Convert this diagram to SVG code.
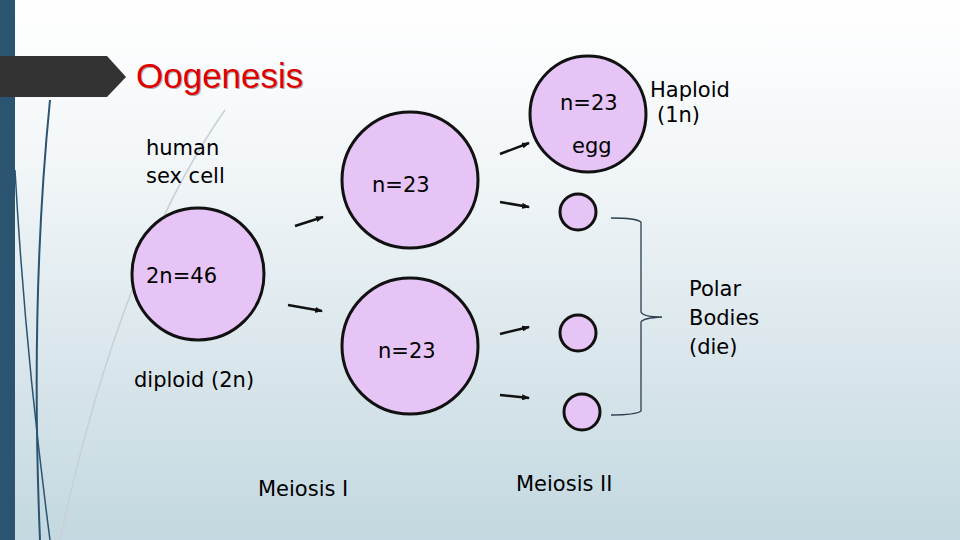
<svg xmlns="http://www.w3.org/2000/svg" width="960" height="540" viewBox="0 0 960 540">
<defs>
<linearGradient id="bg" x1="0" y1="0" x2="0" y2="1"><stop offset="0" stop-color="#ffffff"/><stop offset="0.3" stop-color="#f2f6f8"/><stop offset="1" stop-color="#c3d8e0"/></linearGradient>
<marker id="ah" markerWidth="8" markerHeight="6" refX="7" refY="3" orient="auto" markerUnits="userSpaceOnUse"><path d="M0,0 L8,3 L0,6 Z" fill="#111"/></marker>
<style>
.cell{fill:#e6c4f5;stroke:#111;stroke-width:3}
.t{font-family:"DejaVu Sans",sans-serif;font-size:21px;fill:#000}
.a{stroke:#111;stroke-width:2.5;fill:none;marker-end:url(#ah)}
</style>
</defs>
<rect width="960" height="540" fill="url(#bg)"/>
<rect x="0" y="0" width="15" height="540" fill="#2b5470"/>
<path d="M50,100 Q30,300 40,540" stroke="#2b5470" stroke-width="2" fill="none"/>
<path d="M15,170 Q25,350 50,540" stroke="#2b5470" stroke-width="1.5" fill="none"/>
<path d="M225,110 Q120,260 60,540" stroke="#c8d0d4" stroke-width="1.5" fill="none"/>
<path d="M0,56 L107,56 L126,77 L107,97 L0,97 Z" fill="#333"/>
<text x="137" y="89" font-family="Liberation Sans,sans-serif" font-size="35" fill="#aaa">Oogenesis</text>
<text x="136" y="88" font-family="Liberation Sans,sans-serif" font-size="35" fill="#e00000">Oogenesis</text>
<g id="labels">
<text class="t" x="146" y="155">human</text>
<text class="t" x="146" y="183">sex cell</text>
<text class="t" x="134" y="387">diploid (2n)</text>
<text class="t" x="258" y="496">Meiosis I</text>
<text class="t" x="516" y="491">Meiosis II</text>
<text class="t" x="650" y="97">Haploid</text>
<text class="t" x="657" y="122">(1n)</text>
<text class="t" x="689" y="296">Polar</text>
<text class="t" x="689" y="325">Bodies</text>
<text class="t" x="689" y="354">(die)</text>
</g>
<g id="cell2n"><circle class="cell" cx="198" cy="274" r="66"/><text class="t" x="146" y="283">2n=46</text></g>
<g id="cellA"><circle class="cell" cx="410" cy="180" r="68"/><text class="t" x="372" y="192">n=23</text></g>
<g id="cellB"><circle class="cell" cx="410" cy="346" r="68"/><text class="t" x="378" y="358">n=23</text></g>
<g id="egg"><circle class="cell" cx="588" cy="114" r="58"/><text class="t" x="560" y="110">n=23</text><text class="t" x="572" y="153">egg</text></g>
<g id="pb1"><circle class="cell" cx="578" cy="212" r="18"/></g>
<g id="pb2"><circle class="cell" cx="578" cy="333" r="18"/></g>
<g id="pb3"><circle class="cell" cx="582" cy="412" r="18"/></g>
<g id="connectors">
<line class="a" x1="295" y1="226" x2="323" y2="217"/>
<line class="a" x1="288" y1="305" x2="322" y2="311"/>
<line class="a" x1="500" y1="154" x2="529" y2="143"/>
<line class="a" x1="500" y1="202" x2="529" y2="207"/>
<line class="a" x1="500" y1="334" x2="529" y2="327"/>
<line class="a" x1="500" y1="395" x2="529" y2="398"/>
<path d="M611,218 Q636,218 641,222 L641,312 Q643,317 662,317 Q643,318 641,322 L641,411 Q636,415 611,415" stroke="#2b3f4f" stroke-width="1.3" fill="none"/>
</g>
</svg>
